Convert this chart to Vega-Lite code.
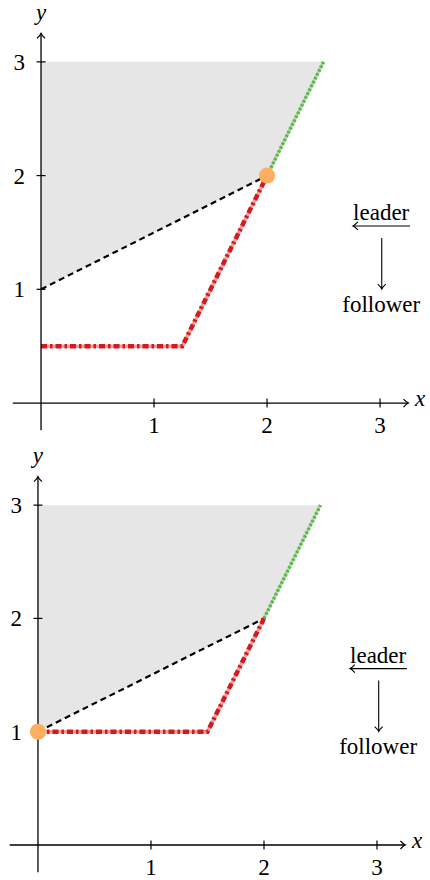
{
  "$schema": "https://vega.github.io/schema/vega-lite/v6.json",
  "padding": 0,
  "spacing": 0,
  "config": {"view": {"stroke": null}, "text": {"font": "Liberation Serif", "fontSize": 23, "color": "#000"}},
  "datasets": {
    "region": [{"x": 0, "lo": 1, "hi": 3}, {"x": 2, "lo": 2, "hi": 3}, {"x": 2.5, "lo": 3, "hi": 3}],
    "leaderLine": [{"x": 0, "y": 1}, {"x": 2, "y": 2}],
    "followerBest": [{"x": 2, "y": 2}, {"x": 2.5, "y": 3}],
    "redTop": [{"x": 0, "y": 0.5}, {"x": 1.25, "y": 0.5}, {"x": 2, "y": 2}],
    "redBottom": [{"x": 0, "y": 1}, {"x": 1.5, "y": 1}, {"x": 2, "y": 2}],
    "dotTop": [{"x": 2, "y": 2}],
    "dotBottom": [{"x": 0, "y": 1}],
    "axes": [{"x": -0.25, "y": 0, "x2": 3.25, "y2": 0}, {"x": 0, "y": -0.24, "x2": 0, "y2": 3.25}],
    "ticks": [{"v": 1}, {"v": 2}, {"v": 3}],
    "tipRight": [{"x": 3.25, "y": 0}],
    "tipUp": [{"x": 0, "y": 3.25}],
    "tipLeft": [{"x": 2.761, "y": 1.557}],
    "tipDown": [{"x": 3.015, "y": 1.003}],
    "legendArrows": [{"x": 3.265, "y": 1.557, "x2": 2.761, "y2": 1.557}, {"x": 3.015, "y": 1.451, "x2": 3.015, "y2": 1.003}],
    "words": [{"label": "leader", "x": 3.01, "y": 1.61}, {"label": "follower", "x": 3.01, "y": 0.8}],
    "axisNames": [{"label": "x", "x": 3.354, "y": -0.03}, {"label": "y", "x": 0, "y": 3.37}]
  },
  "vconcat": [
    {
      "width": 430,
      "height": 440,
      "layer": [
        {"data": {"name": "region"}, "mark": {"type": "area", "color": "#e6e6e6", "opacity": 1},
         "encoding": {"x": {"field": "x", "type": "quantitative", "axis": null, "scale": {"domain": [-0.363, 3.442], "nice": false, "zero": false}},
                      "y": {"field": "lo", "type": "quantitative", "axis": null, "scale": {"domain": [-0.325, 3.544], "nice": false, "zero": false}},
                      "y2": {"field": "hi"}}},
        {"data": {"name": "leaderLine"}, "mark": {"type": "line", "color": "#000", "strokeWidth": 2.2, "strokeDash": [6, 4]},
         "encoding": {"x": {"field": "x", "type": "quantitative"}, "y": {"field": "y", "type": "quantitative"}}},
        {"data": {"name": "followerBest"}, "mark": {"type": "line", "color": "#6cc05a", "strokeWidth": 2.5, "opacity": 0.5},
         "encoding": {"x": {"field": "x", "type": "quantitative"}, "y": {"field": "y", "type": "quantitative"}}},
        {"data": {"name": "followerBest"}, "mark": {"type": "line", "color": "#5cb84a", "strokeWidth": 3.5, "strokeDash": [2.5, 1.8]},
         "encoding": {"x": {"field": "x", "type": "quantitative"}, "y": {"field": "y", "type": "quantitative"}}},
        {"data": {"name": "redTop"}, "mark": {"type": "line", "color": "#e3393c", "strokeWidth": 3.5, "opacity": 0.5},
         "encoding": {"x": {"field": "x", "type": "quantitative"}, "y": {"field": "y", "type": "quantitative"}}},
        {"data": {"name": "redTop"}, "mark": {"type": "line", "color": "#d7191c", "strokeWidth": 4.5, "strokeDash": [6, 3, 2.5, 3]},
         "encoding": {"x": {"field": "x", "type": "quantitative"}, "y": {"field": "y", "type": "quantitative"}}},
        {"data": {"name": "axes"}, "mark": {"type": "rule", "color": "#000", "strokeWidth": 1.3},
         "encoding": {"x": {"field": "x", "type": "quantitative"}, "y": {"field": "y", "type": "quantitative"}, "x2": {"field": "x2"}, "y2": {"field": "y2"}}},
        {"data": {"name": "ticks"}, "mark": {"type": "tick", "orient": "vertical", "color": "#000", "size": 9, "thickness": 1.2, "opacity": 1},
         "encoding": {"x": {"field": "v", "type": "quantitative"}, "y": {"datum": 0, "type": "quantitative"}}},
        {"data": {"name": "ticks"}, "mark": {"type": "tick", "orient": "horizontal", "color": "#000", "size": 9, "thickness": 1.2, "opacity": 1},
         "encoding": {"y": {"field": "v", "type": "quantitative"}, "x": {"datum": 0, "type": "quantitative"}}},
        {"data": {"name": "ticks"}, "mark": {"type": "text", "align": "center", "baseline": "alphabetic", "dy": 30},
         "encoding": {"x": {"field": "v", "type": "quantitative"}, "y": {"datum": 0, "type": "quantitative"}, "text": {"field": "v"}}},
        {"data": {"name": "ticks"}, "mark": {"type": "text", "align": "right", "baseline": "alphabetic", "dx": -16, "dy": 8},
         "encoding": {"y": {"field": "v", "type": "quantitative"}, "x": {"datum": 0, "type": "quantitative"}, "text": {"field": "v"}}},
        {"data": {"name": "legendArrows"}, "mark": {"type": "rule", "color": "#000", "strokeWidth": 1.1},
         "encoding": {"x": {"field": "x", "type": "quantitative"}, "y": {"field": "y", "type": "quantitative"}, "x2": {"field": "x2"}, "y2": {"field": "y2"}}},
        {"data": {"name": "tipRight"}, "mark": {"type": "point", "shape": "M -1.2 -1 Q -0.4 -0.15 0 0 Q -0.4 0.15 -1.2 1", "filled": false, "stroke": "#000", "strokeWidth": 1.2, "size": 64, "angle": 0, "opacity": 1},
         "encoding": {"x": {"field": "x", "type": "quantitative"}, "y": {"field": "y", "type": "quantitative"}}},
        {"data": {"name": "tipUp"}, "mark": {"type": "point", "shape": "M -1.2 -1 Q -0.4 -0.15 0 0 Q -0.4 0.15 -1.2 1", "filled": false, "stroke": "#000", "strokeWidth": 1.2, "size": 64, "angle": 270, "opacity": 1},
         "encoding": {"x": {"field": "x", "type": "quantitative"}, "y": {"field": "y", "type": "quantitative"}}},
        {"data": {"name": "tipLeft"}, "mark": {"type": "point", "shape": "M -1.2 -1 Q -0.4 -0.15 0 0 Q -0.4 0.15 -1.2 1", "filled": false, "stroke": "#000", "strokeWidth": 1.1, "size": 64, "angle": 180, "opacity": 1},
         "encoding": {"x": {"field": "x", "type": "quantitative"}, "y": {"field": "y", "type": "quantitative"}}},
        {"data": {"name": "tipDown"}, "mark": {"type": "point", "shape": "M -1.2 -1 Q -0.4 -0.15 0 0 Q -0.4 0.15 -1.2 1", "filled": false, "stroke": "#000", "strokeWidth": 1.1, "size": 64, "angle": 90, "opacity": 1},
         "encoding": {"x": {"field": "x", "type": "quantitative"}, "y": {"field": "y", "type": "quantitative"}}},
        {"data": {"name": "words"}, "mark": {"type": "text", "align": "center", "baseline": "alphabetic"},
         "encoding": {"x": {"field": "x", "type": "quantitative"}, "y": {"field": "y", "type": "quantitative"}, "text": {"field": "label"}}},
        {"data": {"name": "axisNames"}, "mark": {"type": "text", "align": "center", "baseline": "alphabetic", "fontStyle": "italic"},
         "encoding": {"x": {"field": "x", "type": "quantitative"}, "y": {"field": "y", "type": "quantitative"}, "text": {"field": "label"}}},
        {"data": {"name": "dotTop"}, "mark": {"type": "circle", "color": "#fdae61", "size": 260, "opacity": 1},
         "encoding": {"x": {"field": "x", "type": "quantitative"}, "y": {"field": "y", "type": "quantitative"}}}
      ]
    },
    {
      "width": 430,
      "height": 440,
      "layer": [
        {"data": {"name": "region"}, "mark": {"type": "area", "color": "#e6e6e6", "opacity": 1},
         "encoding": {"x": {"field": "x", "type": "quantitative", "axis": null, "scale": {"domain": [-0.336, 3.469], "nice": false, "zero": false}},
                      "y": {"field": "lo", "type": "quantitative", "axis": null, "scale": {"domain": [-0.309, 3.575], "nice": false, "zero": false}},
                      "y2": {"field": "hi"}}},
        {"data": {"name": "leaderLine"}, "mark": {"type": "line", "color": "#000", "strokeWidth": 2.2, "strokeDash": [6, 4]},
         "encoding": {"x": {"field": "x", "type": "quantitative"}, "y": {"field": "y", "type": "quantitative"}}},
        {"data": {"name": "followerBest"}, "mark": {"type": "line", "color": "#6cc05a", "strokeWidth": 2.5, "opacity": 0.5},
         "encoding": {"x": {"field": "x", "type": "quantitative"}, "y": {"field": "y", "type": "quantitative"}}},
        {"data": {"name": "followerBest"}, "mark": {"type": "line", "color": "#5cb84a", "strokeWidth": 3.5, "strokeDash": [2.5, 1.8]},
         "encoding": {"x": {"field": "x", "type": "quantitative"}, "y": {"field": "y", "type": "quantitative"}}},
        {"data": {"name": "redBottom"}, "mark": {"type": "line", "color": "#e3393c", "strokeWidth": 3.5, "opacity": 0.5},
         "encoding": {"x": {"field": "x", "type": "quantitative"}, "y": {"field": "y", "type": "quantitative"}}},
        {"data": {"name": "redBottom"}, "mark": {"type": "line", "color": "#d7191c", "strokeWidth": 4.5, "strokeDash": [6, 3, 2.5, 3]},
         "encoding": {"x": {"field": "x", "type": "quantitative"}, "y": {"field": "y", "type": "quantitative"}}},
        {"data": {"name": "axes"}, "mark": {"type": "rule", "color": "#000", "strokeWidth": 1.3},
         "encoding": {"x": {"field": "x", "type": "quantitative"}, "y": {"field": "y", "type": "quantitative"}, "x2": {"field": "x2"}, "y2": {"field": "y2"}}},
        {"data": {"name": "ticks"}, "mark": {"type": "tick", "orient": "vertical", "color": "#000", "size": 9, "thickness": 1.2, "opacity": 1},
         "encoding": {"x": {"field": "v", "type": "quantitative"}, "y": {"datum": 0, "type": "quantitative"}}},
        {"data": {"name": "ticks"}, "mark": {"type": "tick", "orient": "horizontal", "color": "#000", "size": 9, "thickness": 1.2, "opacity": 1},
         "encoding": {"y": {"field": "v", "type": "quantitative"}, "x": {"datum": 0, "type": "quantitative"}}},
        {"data": {"name": "ticks"}, "mark": {"type": "text", "align": "center", "baseline": "alphabetic", "dy": 30},
         "encoding": {"x": {"field": "v", "type": "quantitative"}, "y": {"datum": 0, "type": "quantitative"}, "text": {"field": "v"}}},
        {"data": {"name": "ticks"}, "mark": {"type": "text", "align": "right", "baseline": "alphabetic", "dx": -16, "dy": 8},
         "encoding": {"y": {"field": "v", "type": "quantitative"}, "x": {"datum": 0, "type": "quantitative"}, "text": {"field": "v"}}},
        {"data": {"name": "legendArrows"}, "mark": {"type": "rule", "color": "#000", "strokeWidth": 1.1},
         "encoding": {"x": {"field": "x", "type": "quantitative"}, "y": {"field": "y", "type": "quantitative"}, "x2": {"field": "x2"}, "y2": {"field": "y2"}}},
        {"data": {"name": "tipRight"}, "mark": {"type": "point", "shape": "M -1.2 -1 Q -0.4 -0.15 0 0 Q -0.4 0.15 -1.2 1", "filled": false, "stroke": "#000", "strokeWidth": 1.2, "size": 64, "angle": 0, "opacity": 1},
         "encoding": {"x": {"field": "x", "type": "quantitative"}, "y": {"field": "y", "type": "quantitative"}}},
        {"data": {"name": "tipUp"}, "mark": {"type": "point", "shape": "M -1.2 -1 Q -0.4 -0.15 0 0 Q -0.4 0.15 -1.2 1", "filled": false, "stroke": "#000", "strokeWidth": 1.2, "size": 64, "angle": 270, "opacity": 1},
         "encoding": {"x": {"field": "x", "type": "quantitative"}, "y": {"field": "y", "type": "quantitative"}}},
        {"data": {"name": "tipLeft"}, "mark": {"type": "point", "shape": "M -1.2 -1 Q -0.4 -0.15 0 0 Q -0.4 0.15 -1.2 1", "filled": false, "stroke": "#000", "strokeWidth": 1.1, "size": 64, "angle": 180, "opacity": 1},
         "encoding": {"x": {"field": "x", "type": "quantitative"}, "y": {"field": "y", "type": "quantitative"}}},
        {"data": {"name": "tipDown"}, "mark": {"type": "point", "shape": "M -1.2 -1 Q -0.4 -0.15 0 0 Q -0.4 0.15 -1.2 1", "filled": false, "stroke": "#000", "strokeWidth": 1.1, "size": 64, "angle": 90, "opacity": 1},
         "encoding": {"x": {"field": "x", "type": "quantitative"}, "y": {"field": "y", "type": "quantitative"}}},
        {"data": {"name": "words"}, "mark": {"type": "text", "align": "center", "baseline": "alphabetic"},
         "encoding": {"x": {"field": "x", "type": "quantitative"}, "y": {"field": "y", "type": "quantitative"}, "text": {"field": "label"}}},
        {"data": {"name": "axisNames"}, "mark": {"type": "text", "align": "center", "baseline": "alphabetic", "fontStyle": "italic"},
         "encoding": {"x": {"field": "x", "type": "quantitative"}, "y": {"field": "y", "type": "quantitative"}, "text": {"field": "label"}}},
        {"data": {"name": "dotBottom"}, "mark": {"type": "circle", "color": "#fdae61", "size": 260, "opacity": 1},
         "encoding": {"x": {"field": "x", "type": "quantitative"}, "y": {"field": "y", "type": "quantitative"}}}
      ]
    }
  ]
}
